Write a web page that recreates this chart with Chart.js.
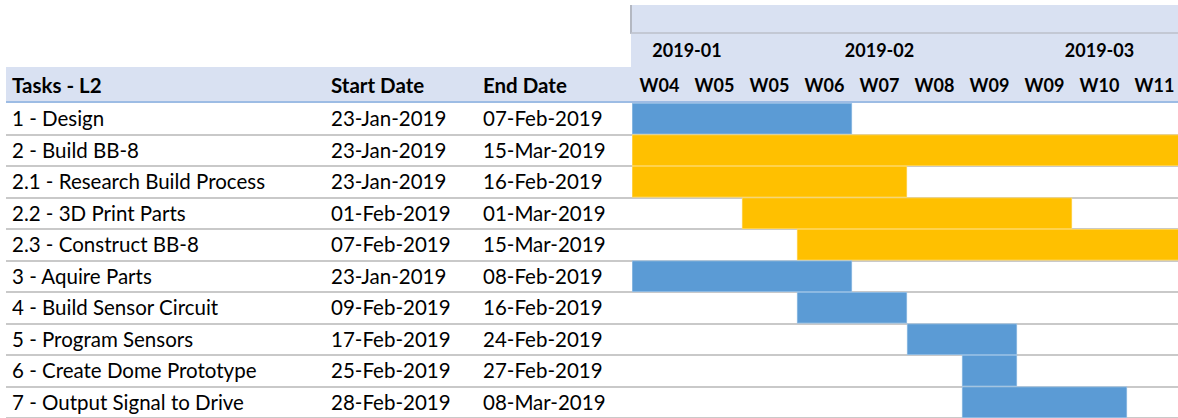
<!DOCTYPE html>
<html>
<head>
<meta charset="utf-8">
<script src="https://cdn.jsdelivr.net/npm/chart.js@4/dist/chart.umd.min.js"></script>
<style>
body { margin: 0; background: #fff; }
#wrap { position: relative; width: 1178px; height: 418px; overflow: hidden;
	font-family: Lato, "Open Sans", sans-serif; color: #000; }
.band { position: absolute; background: #d9e1f2; }
.txt { position: absolute; white-space: nowrap; font-size: 20.5px; }
.bold { font-weight: bold; }
.rowline { position: absolute; left: 6px; width: 626px; height: 2px; background: #c9c9c9; }
#gantt_box { position: absolute; left: 632px; top: 103px; width: 546px; height: 315px; }
</style>
</head>
<body>
<div id="wrap">
  <div class="band" style="left:630px;top:5px;width:548px;height:29px;border-left:2px solid #b4b8c2;border-bottom:2px solid #c3c8d4;box-sizing:border-box;"></div>
  <div class="band" style="left:631px;top:34px;width:547px;height:33px;"></div>
  <div class="band" style="left:6px;top:67px;width:1172px;height:35px;"></div>
  <div id="header"></div>
  <div id="rows"></div>
  <div id="gantt_box"><canvas id="gantt"></canvas></div>
  <div style="position:absolute;left:6px;top:101px;width:1172px;height:2px;background:#9dbce4;z-index:5;"></div>
</div>
<script>
// table columns
var headers = ["Tasks - L2", "Start Date", "End Date"];
var tasks = ["1 - Design", "2 - Build BB-8", "2.1 - Research Build Process",
	     "2.2 - 3D Print Parts", "2.3 - Construct BB-8", "3 - Aquire Parts",
	     "4 - Build Sensor Circuit", "5 - Program Sensors",
	     "6 - Create Dome Prototype", "7 - Output Signal to Drive"];
var start_dates = ["23-Jan-2019", "23-Jan-2019", "23-Jan-2019", "01-Feb-2019",
		   "07-Feb-2019", "23-Jan-2019", "09-Feb-2019", "17-Feb-2019",
		   "25-Feb-2019", "28-Feb-2019"];
var end_dates = ["07-Feb-2019", "15-Mar-2019", "16-Feb-2019", "01-Mar-2019",
		 "15-Mar-2019", "08-Feb-2019", "16-Feb-2019", "24-Feb-2019",
		 "27-Feb-2019", "08-Mar-2019"];
// timeline columns (one per week slot) and month groups
var weeks = ["W04", "W05", "W05", "W06", "W07", "W08", "W09", "W09", "W10", "W11"];
var months = ["2019-01", "2019-02", "2019-03"];
var month_span = [[0, 2], [2, 7], [7, 10]];
// bars, in timeline column units
var bar_start = [0, 0, 0, 2, 3, 0, 3, 5, 6, 6];
var bar_end = [4, 10, 5, 8, 10, 4, 5, 7, 7, 9];
var is_build = [false, true, true, true, true, false, false, false, false, false];

var row_h = 31.5, top0 = 103, col_w = 55, gx = 632;
var col_x = [12, 331, 483];

function put(parent, text, css, cls)
{
    var d = document.createElement("div");
    d.className = "txt " + (cls || "");
    d.textContent = text;
    d.style.cssText = css;
    parent.appendChild(d);
    return d;
}

var head = document.getElementById("header");
for (let i = 0; i < headers.length; i++)
    put(head, headers[i], "left:" + col_x[i] + "px;top:70px;line-height:31px;", "bold");
for (let i = 0; i < weeks.length; i++)
    put(head, weeks[i], "left:" + (gx + i * col_w) + "px;width:" + col_w +
	"px;text-align:center;top:70px;line-height:31px;font-size:18px;", "bold");
for (let i = 0; i < months.length; i++) {
    var a = month_span[i][0], b = month_span[i][1];
    put(head, months[i], "left:" + (gx + a * col_w) + "px;width:" + ((b - a) * col_w) +
	"px;text-align:center;top:35px;line-height:31px;font-size:18px;", "bold");
}

var rows = document.getElementById("rows");
for (let i = 0; i < tasks.length; i++) {
    var y = top0 + i * row_h;
    var vals = [tasks[i], start_dates[i], end_dates[i]];
    for (let c = 0; c < 3; c++)
	put(rows, vals[c], "left:" + col_x[c] + "px;top:" + y + "px;line-height:" + row_h + "px;");
    var ln = document.createElement("div");
    ln.className = "rowline";
    ln.style.top = (y + row_h - 1) + "px";
    rows.appendChild(ln);
}

var bars = [];
for (let i = 0; i < tasks.length; i++)
    bars.push([bar_start[i], bar_end[i]]);

new Chart(document.getElementById("gantt"), {
    type: 'bar',
    data: {
	labels: tasks,
	datasets: [{
	    data: bars,
	    backgroundColor: is_build.map(function(v) { return v ? '#ffc000' : '#5b9bd5'; }),
	    borderColor: is_build.map(function(v) { return v ? '#ffd966' : '#9dc3e6'; }),
	    borderWidth: 1,
	    borderSkipped: false,
	    barPercentage: 1,
	    categoryPercentage: 1
	}]
    },
    options: {
	indexAxis: 'y',
	responsive: true,
	maintainAspectRatio: false,
	animation: false,
	layout: { padding: 0 },
	plugins: { legend: { display: false }, tooltip: { enabled: false } },
	scales: {
	    x: {
		display: false,
		min: 0,
		max: 546 / col_w
	    },
	    y: {
		z: 1,
		ticks: { display: false },
		border: { display: false },
		grid: {
		    drawTicks: false,
		    lineWidth: 2,
		    color: function(ctx) { return ctx.index === 0 ? 'rgba(0,0,0,0)' : '#c9c9c9'; }
		}
	    }
	}
    }
});
</script>
</body>
</html>
